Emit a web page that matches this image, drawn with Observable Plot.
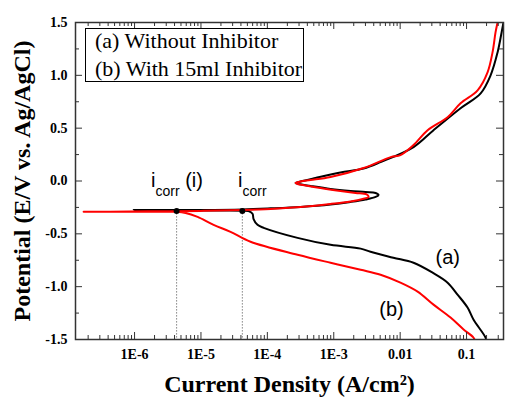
<!DOCTYPE html>
<html><head><meta charset="utf-8">
<script src="https://cdn.jsdelivr.net/npm/d3@7"></script>
<script src="https://cdn.jsdelivr.net/npm/@observablehq/plot@0.6"></script>
<style>body{margin:0;background:#fff} svg{display:block}</style>
</head><body><div id="chart"></div>
<script>
// Curve (a) Without Inhibitor: current density (A/cm2) and potential (V)
const curveA_i = [0.2,0.193,0.127,0.1035,0.0731,0.0518,0.0308,0.0159,7.9e-3,3.58e-3,2.54e-3,8.95e-4,2.85e-4,8.8e-5,7.1e-5,6.2e-5,5.98e-5,5.2e-5,4.24e-5,2e-5,9.7e-7,
  9.9e-6,4.24e-5,1.12e-4,3.16e-4,8.95e-4,1.79e-3,3.01e-3,4.27e-3,4.73e-3,4.27e-3,3.01e-3,1.79e-3,8.95e-4,4.48e-4,2.95e-4,2.66e-4,3.16e-4,5.3e-4,1.26e-3,2.81e-3,5.07e-3,0.0159,0.0318,0.0812,0.163,0.230,0.293,0.337,0.36];
const curveA_E = [-1.52,-1.481,-1.311,-1.198,-1.075,-0.962,-0.868,-0.774,-0.726,-0.670,-0.64,-0.604,-0.538,-0.443,-0.415,-0.36,-0.31,-0.285,-0.281,-0.279,-0.274,
  -0.274,-0.269,-0.259,-0.245,-0.222,-0.198,-0.175,-0.151,-0.132,-0.113,-0.104,-0.094,-0.075,-0.047,-0.028,-0.019,-0.005,0.028,0.080,0.118,0.179,0.321,0.481,0.689,0.830,1.0,1.217,1.406,1.5];
// Curve (b) With 15ml Inhibitor
const curveB_i = [0.135,0.127,0.0902,0.0574,0.0318,0.0183,0.0101,5.07e-3,2.54e-3,8.95e-4,2.85e-4,5.58e-5,2.79e-5,1.55e-5,8.9e-6,5.86e-6,4.3e-6,1.71e-7,
  4.35e-7,1.74e-6,9.9e-6,4.24e-5,1.12e-4,3.16e-4,8.95e-4,1.79e-3,2.72e-3,3.34e-3,3.12e-3,2.13e-3,1.26e-3,6.3e-4,3.76e-4,2.85e-4,2.66e-4,3.16e-4,4.48e-4,8.95e-4,2.81e-3,7.2e-3,0.0101,0.0159,0.0259,0.0518,0.0812,0.1466,0.207,0.246,0.273,0.293];
const curveB_E = [-1.52,-1.481,-1.405,-1.292,-1.170,-1.047,-0.962,-0.887,-0.840,-0.774,-0.698,-0.575,-0.481,-0.415,-0.340,-0.302,-0.292,-0.292,
  -0.29,-0.288,-0.283,-0.274,-0.264,-0.245,-0.217,-0.193,-0.170,-0.151,-0.127,-0.113,-0.094,-0.066,-0.042,-0.028,-0.019,-0.005,0.009,0.038,0.123,0.226,0.245,0.340,0.481,0.604,0.736,0.858,1.028,1.217,1.406,1.5];
// corrosion current points
const icorrValues = [4.3e-6, 4.2e-5];
const ecorrValues = [-0.283, -0.283];
const icorrSuffix = [" (i)", ""];
const icorrLabelI = [1.8e-6, 3.68e-5];
const icorrLabelE = [-0.066, -0.066];
// curve annotations
const curveLabels = ["(a)", "(b)"];
const curveLabelI = [0.052, 0.0074];
const curveLabelE = [-0.726, -1.217];
// legend
const legendItems = ["(a) Without Inhibitor", "(b) With 15ml Inhibitor"];
// axes
const xDomain = [1.29e-7, 0.36];
const yDomain = [-1.5, 1.5];
const xMajor = [1e-6, 1e-5, 1e-4, 1e-3, 0.01, 0.1];
const xTickLabels = ["1E-6", "1E-5", "1E-4", "1E-3", "0.01", "0.1"];
const yMajor = [-1.5, -1.0, -0.5, 0.0, 0.5, 1.0, 1.5];
const yTickLabels = ["-1.5", "-1.0", "-0.5", "0.0", "0.5", "1.0", "1.5"];
const yMinor = [-1.25, -0.75, -0.25, 0.25, 0.75, 1.25];
const xTitle = "Current Density (A/cm²)";
const yTitle = "Potential (E/V vs. Ag/AgCl)";

const xMinor = [];
for (let k = -7; k <= -1; k++) for (let m = 2; m <= 9; m++) {
  const v = m * Math.pow(10, k);
  if (v > xDomain[0] && v < xDomain[1]) xMinor.push(v);
}

const dataA = curveA_i.map((v, j) => ({i: v, E: curveA_E[j]}));
const dataB = curveB_i.map((v, j) => ({i: v, E: curveB_E[j]}));
const icorr = icorrValues.map((v, j) => ({i: v, E: ecorrValues[j]}));
const notes = curveLabels.map((t, j) => ({t, i: curveLabelI[j], E: curveLabelE[j]}));

const W = 506, H = 399, mL = 75, mR = 3, mT = 22, mB = 60;
const pw = W - mL - mR, ph = H - mT - mB;
const serif = "Liberation Serif, Times New Roman, serif";
const sans = "Liberation Sans, Arial, sans-serif";
const axisCol = "#333";

const plot = Plot.plot({
  width: W, height: H,
  marginLeft: mL, marginRight: mR, marginTop: mT, marginBottom: mB,
  x: {type: "log", domain: xDomain, axis: null},
  y: {domain: yDomain, axis: null},
  style: {background: "#fff", overflow: "visible"},
  marks: [
    Plot.ruleX(icorr, {x: "i", y1: "E", y2: () => yDomain[0], stroke: "#444", strokeWidth: 1, strokeDasharray: "1,2"}),
    Plot.line(dataA, {x: "i", y: "E", stroke: "black", strokeWidth: 2, curve: "catmull-rom", clip: true}),
    Plot.line(dataB, {x: "i", y: "E", stroke: "#ff0000", strokeWidth: 2, curve: "catmull-rom", clip: true}),
    Plot.dot(icorr, {x: "i", y: "E", r: 3, fill: "black"}),
    Plot.text(notes, {x: "i", y: "E", text: "t", fontSize: 20, fontFamily: sans, fill: "black"}),
    // ticks (inward)
    Plot.tickX(xMajor, {x: d => d, insetTop: ph - 7, stroke: axisCol}),
    Plot.tickX(xMinor, {x: d => d, insetTop: ph - 4, stroke: axisCol}),
    Plot.tickX(xMajor, {x: d => d, insetBottom: ph - 7, stroke: axisCol}),
    Plot.tickX(xMinor, {x: d => d, insetBottom: ph - 4, stroke: axisCol}),
    Plot.tickY(yMajor, {y: d => d, insetRight: pw - 7, stroke: axisCol}),
    Plot.tickY(yMinor, {y: d => d, insetRight: pw - 4, stroke: axisCol}),
    Plot.tickY(yMajor, {y: d => d, insetLeft: pw - 7, stroke: axisCol}),
    Plot.tickY(yMinor, {y: d => d, insetLeft: pw - 4, stroke: axisCol}),
    Plot.frame({stroke: axisCol, strokeWidth: 1.5}),
    // tick labels
    Plot.text(xMajor, {x: d => d, text: (d, j) => xTickLabels[j], frameAnchor: "bottom", dy: 15, lineAnchor: "middle", textAnchor: "middle", fontSize: 14, fontWeight: "bold", fontFamily: serif, fill: "black"}),
    Plot.text(yMajor, {y: d => d, text: (d, j) => yTickLabels[j], frameAnchor: "left", dx: -8, textAnchor: "end", lineAnchor: "middle", fontSize: 14, fontWeight: "bold", fontFamily: serif, fill: "black"}),
    // axis titles
    Plot.text([xTitle], {text: d => d, frameAnchor: "bottom", dy: 45, lineAnchor: "middle", textAnchor: "middle", fontSize: 24, fontWeight: "bold", fontFamily: serif, fill: "black"}),
    Plot.text([yTitle], {text: d => d, frameAnchor: "left", dx: -53, rotate: -90, lineAnchor: "middle", textAnchor: "middle", fontSize: 24, fontWeight: "bold", fontFamily: serif, fill: "black"})
  ]
});

const svg = d3.select(plot);
const sx = plot.scale("x"), sy = plot.scale("y");
// i_corr labels with subscript
icorrLabelI.forEach((v, j) => {
  const t = svg.append("text")
    .attr("x", sx.apply(v)).attr("y", sy.apply(icorrLabelE[j]))
    .attr("text-anchor", "start")
    .attr("font-family", sans).attr("font-size", 20).attr("fill", "black");
  t.append("tspan").text("i");
  t.append("tspan").attr("dy", 9).attr("font-size", 14).text("corr");
  if (icorrSuffix[j]) t.append("tspan").attr("dy", -9).text(icorrSuffix[j]);
});
// legend box
const lg = svg.append("g");
lg.append("rect").attr("x", 85.5).attr("y", 28.5).attr("width", 218).attr("height", 53)
  .attr("fill", "white").attr("stroke", "black").attr("stroke-width", 1);
legendItems.forEach((s, j) => {
  lg.append("text").attr("x", 95).attr("y", 48 + j * 28)
    .attr("text-anchor", "start")
    .attr("font-family", serif).attr("font-size", 22).attr("fill", "black").text(s);
});

document.getElementById("chart").appendChild(plot);
</script>
</body></html>
